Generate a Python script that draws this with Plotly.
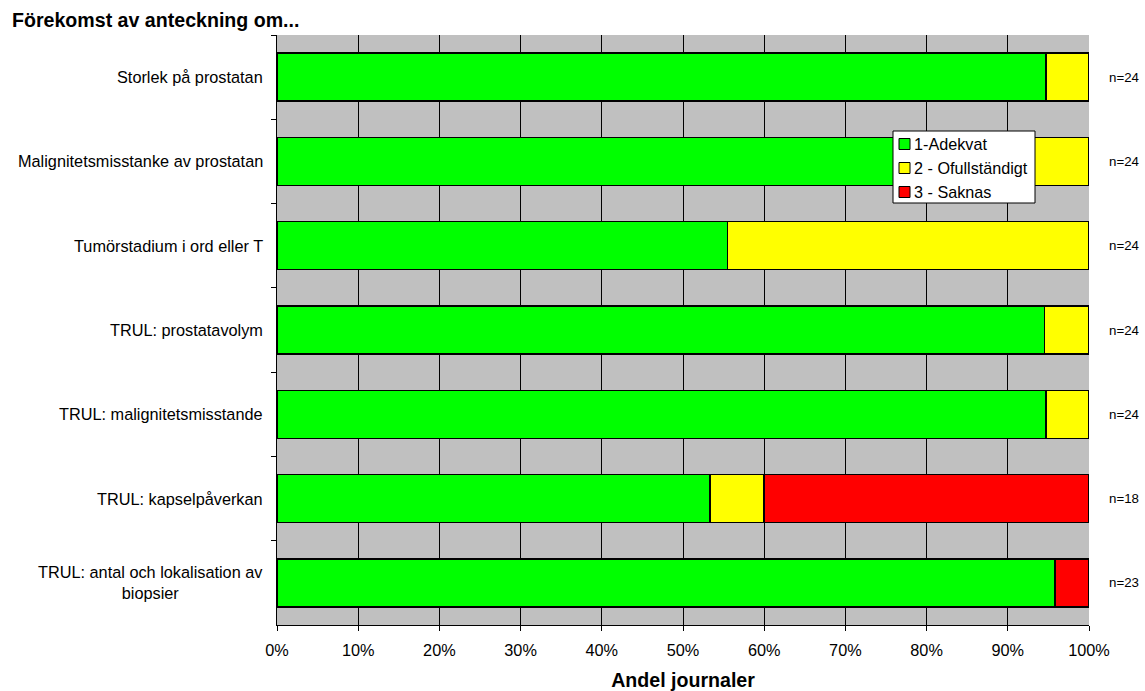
import plotly.graph_objects as go

# Andel journaler per bedömning (procent) för varje anteckningstyp
categories = [
    "Storlek på prostatan",
    "Malignitetsmisstanke av prostatan",
    "Tumörstadium i ord eller T",
    "TRUL: prostatavolym",
    "TRUL: malignitetsmisstande",
    "TRUL: kapselpåverkan",
    "TRUL: antal och lokalisation av<br>biopsier",
]
adekvat = [94.7, 91.7, 55.5, 94.5, 94.7, 53.3, 95.8]
ofullstandigt = [5.3, 8.3, 44.5, 5.5, 5.3, 6.7, 0.0]
saknas = [0.0, 0.0, 0.0, 0.0, 0.0, 40.0, 4.2]
n_labels = ["n=24", "n=24", "n=24", "n=24", "n=24", "n=18", "n=23"]

series_names = ["1-Adekvat", "2 - Ofullständigt", "3 - Saknas"]
series_colors = ["#00FF00", "#FFFF00", "#FF0000"]
series_values = [adekvat, ofullstandigt, saknas]

FONT = "Liberation Sans, Arial, sans-serif"
W, H = 1145, 691
L, R, T, B = 277, 56, 35, 66
PW, PH = W - L - R, H - T - B


def px_x(px):
    """Horizontal pixel position -> paper coordinate."""
    return (px - L) / PW


def px_y(py):
    """Vertical pixel position (from top) -> paper coordinate."""
    return (H - B - py) / PH


fig = go.Figure()
for name, vals, color in zip(series_names, series_values, series_colors):
    fig.add_trace(go.Bar(
        name=name,
        y=categories,
        x=vals,
        orientation="h",
        marker=dict(color=color, line=dict(color="#000000", width=1.5)),
        width=0.57,
        hoverinfo="x+name",
        showlegend=False,
    ))

# category labels, centred line by line and right-aligned against the axis
for cat in categories:
    fig.add_annotation(
        x=0, xref="paper", y=cat, yref="y",
        text=cat, showarrow=False, xanchor="right", align="center",
        xshift=-12,
        font=dict(size=16.3, color="#000000", family=FONT),
    )

# sample size per row, right of the plot area
for cat, lab in zip(categories, n_labels):
    fig.add_annotation(
        x=1, xref="paper", y=cat, yref="y",
        text=lab, showarrow=False, xanchor="left", xshift=18,
        font=dict(size=13.3, color="#000000", family=FONT),
    )

# legend box drawn inside the plot area
box_x0, box_x1, box_y0, box_y1 = 893, 1035, 131, 203
fig.add_shape(
    type="rect", xref="paper", yref="paper",
    x0=px_x(box_x0), x1=px_x(box_x1), y0=px_y(box_y1), y1=px_y(box_y0),
    fillcolor="#FFFFFF", line=dict(color="#000000", width=1), layer="above",
)
for i, (name, color) in enumerate(zip(series_names, series_colors)):
    cy = 144 + 24 * i
    fig.add_shape(
        type="rect", xref="paper", yref="paper",
        x0=px_x(899), x1=px_x(910), y0=px_y(cy + 5.5), y1=px_y(cy - 5.5),
        fillcolor=color, line=dict(color="#000000", width=1), layer="above",
    )
    fig.add_annotation(
        x=px_x(912), xref="paper", y=px_y(cy), yref="paper",
        text=name, showarrow=False, xanchor="left", yanchor="middle",
        font=dict(size=16.2, color="#000000", family=FONT),
    )

fig.update_layout(
    barmode="stack",
    width=W, height=H,
    margin=dict(l=L, r=R, t=T, b=B, autoexpand=False),
    paper_bgcolor="#FFFFFF",
    plot_bgcolor="#C0C0C0",
    font=dict(family=FONT, size=16.3, color="#000000"),
    title=dict(
        text="<b>Förekomst av anteckning om...</b>",
        x=12 / W, xref="container", xanchor="left",
        y=1 - 20 / H, yref="container", yanchor="middle",
        font=dict(size=19.6, family=FONT, color="#000000"),
    ),
    showlegend=False,
    xaxis=dict(
        range=[0, 100],
        tickvals=[0, 10, 20, 30, 40, 50, 60, 70, 80, 90, 100],
        ticktext=[f"{v}%" for v in range(0, 101, 10)],
        ticks="outside", ticklen=5, tickcolor="#000000",
        showgrid=True, gridcolor="#000000", gridwidth=1,
        showline=True, linecolor="#000000", linewidth=1,
        zeroline=False,
        automargin=False,
        tickfont=dict(size=16.3),
        ticklabelstandoff=5,
        title=dict(text="<b>Andel journaler</b>", font=dict(size=19.6), standoff=15),
        fixedrange=True,
    ),
    yaxis=dict(
        type="category",
        categoryorder="array", categoryarray=categories,
        autorange="reversed",
        tickson="boundaries",
        ticks="outside", ticklen=5, tickcolor="#000000",
        showgrid=False,
        showticklabels=False,
        showline=True, linecolor="#000000", linewidth=1,
        automargin=False,
        fixedrange=True,
    ),
)

fig.write_html("out.html")
